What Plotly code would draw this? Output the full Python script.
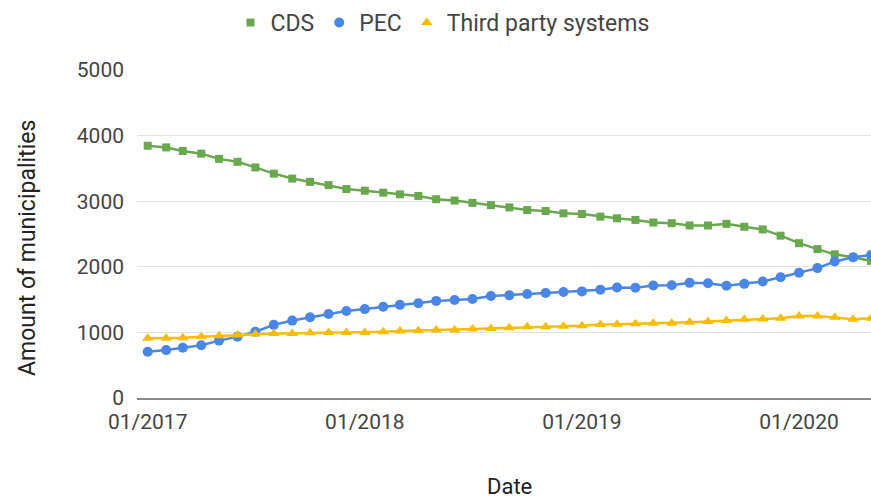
import pandas as pd
import plotly.graph_objects as go

# Monthly counts of municipalities per system, Jan 2017 - May 2020
months = pd.date_range("2017-01-01", periods=41, freq="MS")

cds = [3845, 3820, 3765, 3725, 3645, 3600, 3515, 3420, 3345, 3295, 3245, 3185,
       3160, 3130, 3105, 3080, 3030, 3010, 2975, 2940, 2905, 2865, 2850, 2815,
       2805, 2765, 2740, 2715, 2675, 2665, 2630, 2630, 2655, 2610, 2570, 2475,
       2360, 2270, 2190, 2145, 2090]

pec = [705, 730, 765, 805, 875, 935, 1010, 1115, 1180, 1230, 1280, 1325,
       1355, 1390, 1420, 1445, 1480, 1495, 1510, 1555, 1565, 1585, 1600, 1615,
       1625, 1650, 1685, 1680, 1715, 1720, 1755, 1750, 1710, 1740, 1775, 1840,
       1910, 1980, 2080, 2145, 2180]

third_party = [910, 910, 920, 935, 950, 960, 975, 985, 985, 995, 1000, 1000,
               1000, 1010, 1020, 1025, 1035, 1035, 1050, 1060, 1070, 1085, 1085, 1095,
               1100, 1120, 1125, 1130, 1140, 1140, 1155, 1165, 1180, 1200, 1205, 1215,
               1250, 1250, 1230, 1200, 1215]

FONT = "Roboto"

series = [
    ("CDS", cds, "#6aa84f", "square", 8),
    ("PEC", pec, "#4a86e8", "circle", 10),
    ("Third party systems", third_party, "#f9bc06", "triangle-up", 10),
]

fig = go.Figure()
for name, vals, color, symbol, size in series:
    fig.add_trace(go.Scatter(
        x=months, y=vals, name=name, mode="lines+markers",
        line=dict(color=color, width=2.5),
        marker=dict(color=color, symbol=symbol, size=size),
        showlegend=False,
    ))

# Legend entries show the marker symbol only
for name, vals, color, symbol, size in series:
    fig.add_trace(go.Scatter(
        x=[None], y=[None], name=name, mode="markers",
        marker=dict(color=color, symbol=symbol, size=size),
        showlegend=True,
    ))

fig.update_layout(
    width=871, height=500,
    margin=dict(l=137, r=0, t=70, b=102),
    paper_bgcolor="white", plot_bgcolor="white",
    font=dict(family=FONT, size=21, color="#444444"),
    showlegend=True,
    legend=dict(
        orientation="h", xref="container", yref="container",
        x=0.508, xanchor="center", y=1 - 22.5 / 500, yanchor="middle",
        font=dict(family=FONT, size=23, color="#444444"),
        itemwidth=30,
    ),
    xaxis=dict(
        range=["2016-12-14", "2020-05-01"],
        tickformat="%m/%Y", dtick="M12", tick0="2017-01-01",
        showgrid=False, showline=True, linecolor="#888888", linewidth=1.5,
        ticks="", ticklabelstandoff=4, zeroline=False,
    ),
    yaxis=dict(
        range=[0, 5000], dtick=1000,
        showgrid=True, gridcolor="#e3e3e3", gridwidth=1,
        zeroline=False, ticks="", ticklabelstandoff=12,
    ),
    annotations=[
        dict(text="Date", xref="paper", yref="paper", x=0.508, y=-0.271,
             xanchor="center", yanchor="middle", showarrow=False,
             font=dict(family=FONT, size=22, color="#222222")),
        dict(text="Amount of municipalities", xref="paper", yref="paper",
             x=(27.5 - 137) / 734, y=(398 - 247.5) / 328,
             xanchor="center", yanchor="middle",
             textangle=-90, showarrow=False,
             font=dict(family=FONT, size=23, color="#222222")),
    ],
)

fig.write_html("out.html")
